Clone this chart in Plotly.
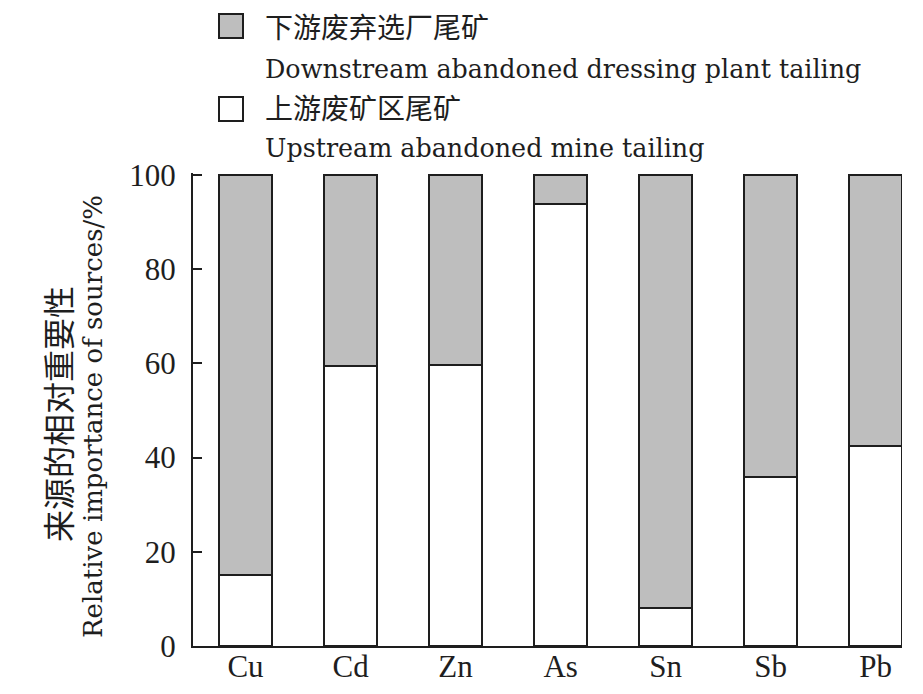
import plotly.graph_objects as go

elements = ["Cu", "Cd", "Zn", "As", "Sn", "Sb", "Pb"]
upstream = [15.0, 59.5, 59.6, 93.8, 8.1, 35.9, 42.4]
downstream = [85.0, 40.5, 40.4, 6.2, 91.9, 64.1, 57.6]
y_ticks = [0, 20, 40, 60, 80, 100]

name_down_cn = "下游废弃选厂尾矿"
name_down_en = "Downstream abandoned dressing plant tailing"
name_up_cn = "上游废矿区尾矿"
name_up_en = "Upstream abandoned mine tailing"
ytitle_cn = "来源的相对重要性"
ytitle_en = "Relative importance of sources/%"

W, H = 923, 694
PX0, PX1, PY0, PY1 = 193, 902, 173, 646   # plot area in window pixels
L, T = PX0, PY0
PW, PH = PX1 - PX0, PY1 - PY0
R, B = W - L - PW, H - T - PH
INK = "#1e1e1e"
GRAY = "#bebebe"
LAT = "Liberation Serif, Times New Roman, serif"
CEN = "DejaVu Serif, serif"
CJK = "Noto Sans CJK SC, sans-serif"


def px(x):
    return (x - PX0) / PW


def py(y):
    return (PY1 - y) / PH


fig = go.Figure()
fig.add_trace(go.Bar(x=elements, y=upstream, name=name_up_cn, width=0.505,
                     marker=dict(color="white", line=dict(color=INK, width=2))))
fig.add_trace(go.Bar(x=elements, y=downstream, name=name_down_cn, width=0.505,
                     marker=dict(color=GRAY, line=dict(color=INK, width=2))))

shapes = []
for (y0, y1, col) in [(14, 38, GRAY), (97, 121, "white")]:
    shapes.append(dict(type="rect", xref="paper", yref="paper",
                       x0=px(219), x1=px(243), y0=py(y1), y1=py(y0),
                       fillcolor=col, line=dict(color=INK, width=2)))

ann = []
for text, yc, fam, size in [(name_down_cn, 26, CJK, 28), (name_down_en, 69, CEN, 25.4),
                            (name_up_cn, 107, CJK, 28), (name_up_en, 148, CEN, 25.4)]:
    ann.append(dict(text=text, xref="paper", yref="paper", x=px(263), y=py(yc),
                    xanchor="left", yanchor="middle", showarrow=False,
                    font=dict(family=fam, size=size, color=INK)))
ann.append(dict(text=ytitle_cn, xref="paper", yref="paper", x=px(57), y=py(414),
                xanchor="center", yanchor="middle", showarrow=False, textangle=-90,
                font=dict(family=CJK, size=32, color=INK)))
ann.append(dict(text=ytitle_en, xref="paper", yref="paper", x=px(93), y=py(417),
                xanchor="center", yanchor="middle", showarrow=False, textangle=-90,
                font=dict(family=CEN, size=26, color=INK)))

fig.update_layout(
    width=W, height=H, barmode="stack", showlegend=False,
    margin=dict(l=L, r=R, t=T, b=B, pad=0),
    plot_bgcolor="white", paper_bgcolor="white",
    shapes=shapes, annotations=ann,
    xaxis=dict(range=[-0.5, 6.25], showline=True, linecolor=INK, linewidth=2,
               ticks="", showgrid=False, zeroline=False, automargin=False,
               ticklabelstandoff=-8,
               tickfont=dict(family=LAT, size=31, color=INK)),
    yaxis=dict(range=[0, 100.4], tickvals=y_ticks, showline=True, linecolor=INK,
               linewidth=2, ticks="inside", ticklen=9, tickwidth=2, tickcolor=INK,
               showgrid=False, zeroline=False, ticklabelstandoff=9, automargin=False,
               tickfont=dict(family=LAT, size=31, color=INK)),
)

fig.write_html(
    "out.html",
    config={"displayModeBar": False},
    post_script="document.body.style.margin='0';document.body.style.overflow='hidden';",
)
